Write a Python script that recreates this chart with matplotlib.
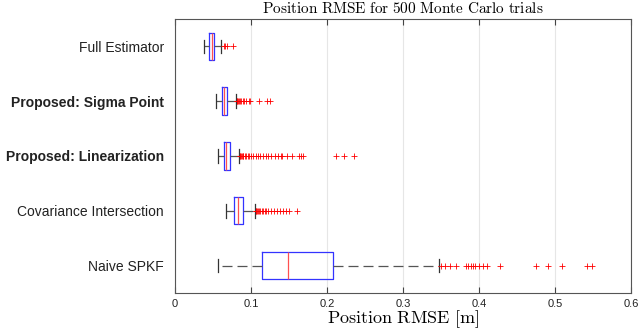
import matplotlib.pyplot as plt
import numpy as np

labels = ['Full Estimator', 'Proposed: Sigma Point', 'Proposed: Linearization',
          'Covariance Intersection', 'Naive SPKF']
bold = [False, True, True, False, False]

whislo = [0.038, 0.054, 0.056, 0.067, 0.056]
q1 = [0.045, 0.062, 0.064, 0.078, 0.1145]
med = [0.0485, 0.065, 0.067, 0.083, 0.149]
q3 = [0.052, 0.069, 0.072, 0.089, 0.208]
whishi = [0.061, 0.080, 0.0845, 0.105, 0.347]

fliers = [
    [0.064, 0.066, 0.068, 0.076],
    [0.081, 0.082, 0.083, 0.084, 0.085, 0.087, 0.089, 0.091, 0.094, 0.097, 0.099,
     0.111, 0.121, 0.125],
    [0.085, 0.086, 0.087, 0.088, 0.089, 0.090, 0.092, 0.094, 0.096, 0.098, 0.100,
     0.103, 0.106, 0.109, 0.112, 0.116, 0.120, 0.123, 0.127, 0.131, 0.135, 0.139,
     0.141, 0.147, 0.154, 0.163, 0.166, 0.169, 0.212, 0.223, 0.235],
    [0.106, 0.107, 0.108, 0.109, 0.110, 0.112, 0.114, 0.116, 0.118, 0.120, 0.123,
     0.126, 0.130, 0.134, 0.138, 0.142, 0.146, 0.150, 0.161],
    [0.350, 0.355, 0.362, 0.370, 0.383, 0.386, 0.390, 0.392, 0.395, 0.400, 0.405,
     0.410, 0.428, 0.475, 0.491, 0.509, 0.542, 0.549],
]

xticks = [0, 0.1, 0.2, 0.3, 0.4, 0.5, 0.6]

plt.rcParams['mathtext.fontset'] = 'cm'
plt.rcParams['font.family'] = 'Liberation Sans'

fig = plt.figure(figsize=(6.4, 3.32), dpi=100)
ax = fig.add_axes([0.2734, 0.1175, 0.7125, 0.8253])

stats = []
for i in range(len(labels)):
    stats.append(dict(med=med[i], q1=q1[i], q3=q3[i], whislo=whislo[i],
                      whishi=whishi[i], fliers=fliers[i], label=labels[i]))

ax.bxp(stats, positions=np.arange(len(labels)), vert=False, widths=0.5,
       showfliers=True, capwidths=0.25,
       boxprops=dict(color='#3333ff', linewidth=0.9),
       medianprops=dict(color='#ff5050', linewidth=0.9),
       whiskerprops=dict(color='#555555', linewidth=0.9, linestyle=(0, (8, 4))),
       capprops=dict(color='#333333', linewidth=0.9),
       flierprops=dict(marker='+', markeredgecolor='red', markersize=5,
                       markeredgewidth=0.6, linestyle='none'))

ax.set_ylim(len(labels) - 0.5, -0.5)
ax.set_xlim(0, 0.6)
ax.set_xticks(xticks)
ax.set_xticklabels([f'{t:g}' for t in xticks])
ax.set_yticks(np.arange(len(labels)))
ax.set_yticklabels(labels, fontsize=10)
for t, b in zip(ax.get_yticklabels(), bold):
    if b:
        t.set_fontweight('bold')

ax.grid(axis='x', color='#e6e6e6', linewidth=0.8)
ax.set_axisbelow(True)
ax.tick_params(axis='x', direction='in', top=True, length=4, labelsize=8,
               color='#444444', labelcolor='#222222', pad=4)
ax.tick_params(axis='y', length=0, pad=8, labelcolor='#222222')
for s in ax.spines.values():
    s.set_color('#555555')
    s.set_linewidth(0.8)

ax.set_title(r'$\mathrm{Position\ RMSE\ for\ 500\ Monte\ Carlo\ trials}$',
             fontsize=11, pad=4)
ax.set_xlabel(r'$\mathrm{Position\ RMSE\ [m]}$', fontsize=13, labelpad=0)

fig.savefig('out.png', dpi=100)
